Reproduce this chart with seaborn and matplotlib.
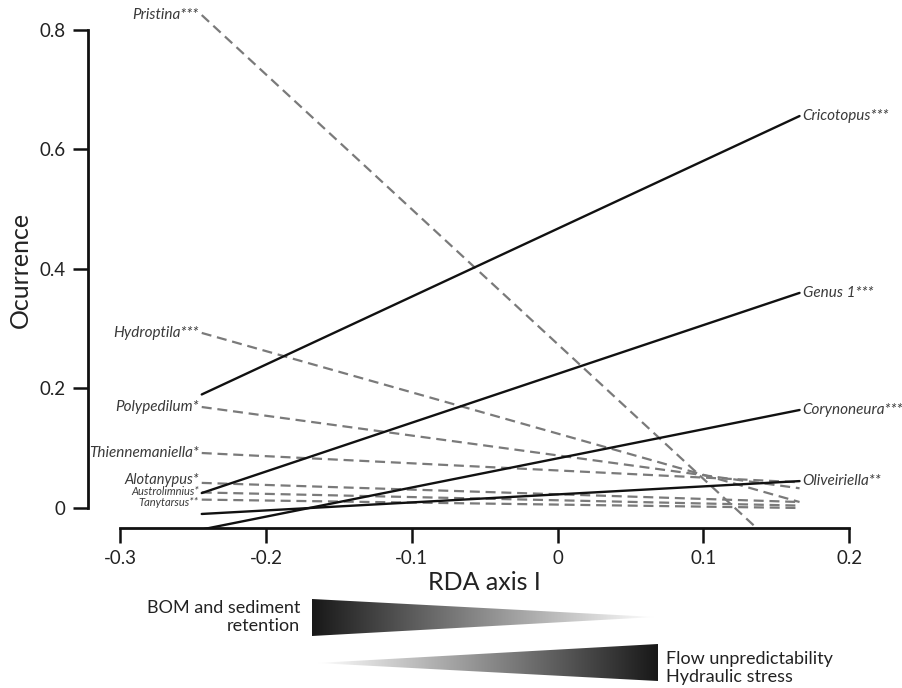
import numpy as np
import pandas as pd
import matplotlib
matplotlib.use("Agg")
import matplotlib.pyplot as plt
from matplotlib.colors import LinearSegmentedColormap
from matplotlib.patches import Polygon
from matplotlib.transforms import offset_copy
import seaborn as sns

# ---------------- data ----------------
x_range = [-0.244, 0.166]          # RDA axis I extent of fitted lines

dec_taxa = ["Pristina***", "Hydroptila***", "Polypedilum*", "Thiennemaniella*",
            "Alotanypus*", "Austrolimnius*", "Tanytarsus**"]
dec_left = [0.825, 0.293, 0.169, 0.092, 0.042, 0.026, 0.014]
dec_right = [-0.100, 0.010, 0.033, 0.043, 0.010, 0.004, 0.000]

inc_taxa = ["Cricotopus***", "Genus 1***", "Corynoneura***", "Oliveiriella**"]
inc_left = [0.190, 0.025, -0.036, -0.010]
inc_right = [0.656, 0.360, 0.164, 0.045]

x_ticks = [-0.3, -0.2, -0.1, 0, 0.1, 0.2]
x_tick_labels = ["-0.3", "-0.2", "-0.1", "0", "0.1", "0.2"]
y_ticks = [0, 0.2, 0.4, 0.6, 0.8]
y_tick_labels = ["0", "0.2", "0.4", "0.6", "0.8"]

# label styling (sizes in pt, vertical nudges in px)
dec_label_size = [11, 11, 11, 11, 10.5, 8, 8]
dec_label_dy = [0, 0, 0, 0, 3, 1, -3]

# ---------------- style ----------------
sns.set_theme(style="white")
plt.rcParams["font.family"] = ["Lato", "DejaVu Sans"]

rows = []
for t, a, b in zip(dec_taxa, dec_left, dec_right):
    rows += [{"taxon": t, "trend": "decrease", "x": x_range[0], "y": a},
             {"taxon": t, "trend": "decrease", "x": x_range[1], "y": b}]
for t, a, b in zip(inc_taxa, inc_left, inc_right):
    rows += [{"taxon": t, "trend": "increase", "x": x_range[0], "y": a},
             {"taxon": t, "trend": "increase", "x": x_range[1], "y": b}]
df = pd.DataFrame(rows)

W, H = 902, 688
fig = plt.figure(figsize=(W / 100, H / 100), dpi=100)
ax = fig.add_axes([88 / W, (H - 528) / H, 776 / W, 521.9 / H])

for t in dec_taxa:
    sns.lineplot(data=df[df.taxon == t], x="x", y="y", ax=ax, color="#7a7a7a",
                 linewidth=1.6, linestyle=(0, (4.5, 2.6)), estimator=None)
for t in inc_taxa:
    sns.lineplot(data=df[df.taxon == t], x="x", y="y", ax=ax, color="#111111",
                 linewidth=1.7, estimator=None)

ax.set_xlim(-0.322, 0.2102)
ax.set_ylim(-0.0335, 0.84)

# labels at the line ends
lab_col = "#3a3a3a"
for t, a, fs, dy in zip(dec_taxa, dec_left, dec_label_size, dec_label_dy):
    tr = offset_copy(ax.transData, fig=fig, x=-3, y=dy, units="dots")
    ax.text(x_range[0], a, t, ha="right", va="center", style="italic",
            fontsize=fs, color=lab_col, transform=tr)
for t, b in zip(inc_taxa, inc_right):
    tr = offset_copy(ax.transData, fig=fig, x=3, y=0, units="dots")
    ax.text(x_range[1], b, t, ha="left", va="center", style="italic",
            fontsize=11, color=lab_col, transform=tr)

ax.set_xticks(x_ticks)
ax.set_xticklabels(x_tick_labels)
ax.set_yticks(y_ticks)
ax.set_yticklabels(y_tick_labels)
ax.set_xlabel("")
ax.set_ylabel("")
for s in ["top", "right"]:
    ax.spines[s].set_visible(False)
ax.spines["left"].set_bounds(0, 0.8)
ax.spines["bottom"].set_bounds(-0.3, 0.2)
for s in ["left", "bottom"]:
    ax.spines[s].set_linewidth(2.0)
    ax.spines[s].set_color("#111111")
ax.tick_params(axis="both", direction="out", length=11, width=1.8, color="#111111",
               labelsize=13.5, labelcolor="#222222", pad=5, left=True, bottom=True)
ax.set_facecolor("none")

fig.text(484 / W, 1 - 583 / H, "RDA axis I", ha="center", va="center",
         fontsize=18, color="#222222")
fig.text(20 / W, 1 - 270 / H, "Ocurrence", ha="center", va="center",
         rotation=90, fontsize=18, color="#222222")

# ---------------- gradient wedges ----------------
ov = fig.add_axes([0, 0, 1, 1])
ov.axis("off")
ov.patch.set_visible(False)

cmap = LinearSegmentedColormap.from_list("g", ["#181818", "#ffffff"])
grad = np.linspace(0, 1, 256)[None, :]

tri1 = Polygon([[312, 599], [312, 636], [655, 617]], closed=True,
               transform=ov.transData, facecolor="none", edgecolor="none")
ov.add_patch(tri1)
im1 = ov.imshow(grad, cmap=cmap, extent=[312, 655, 636, 599], aspect="auto",
                interpolation="bilinear")
im1.set_clip_path(tri1)

tri2 = Polygon([[317, 663], [658, 644], [658, 681]], closed=True,
               transform=ov.transData, facecolor="none", edgecolor="none")
ov.add_patch(tri2)
im2 = ov.imshow(grad[:, ::-1], cmap=cmap, extent=[317, 658, 681, 644], aspect="auto",
                interpolation="bilinear")
im2.set_clip_path(tri2)
ov.set_xlim(0, W)
ov.set_ylim(H, 0)

ov.text(300, 617, "BOM and sediment\nretention", ha="right", va="center",
        fontsize=13, color="#222222", linespacing=1.15)
ov.text(666, 668, "Flow unpredictability\nHydraulic stress", ha="left", va="center",
        fontsize=13, color="#222222", linespacing=1.15)

fig.savefig("out.png", dpi=100)
